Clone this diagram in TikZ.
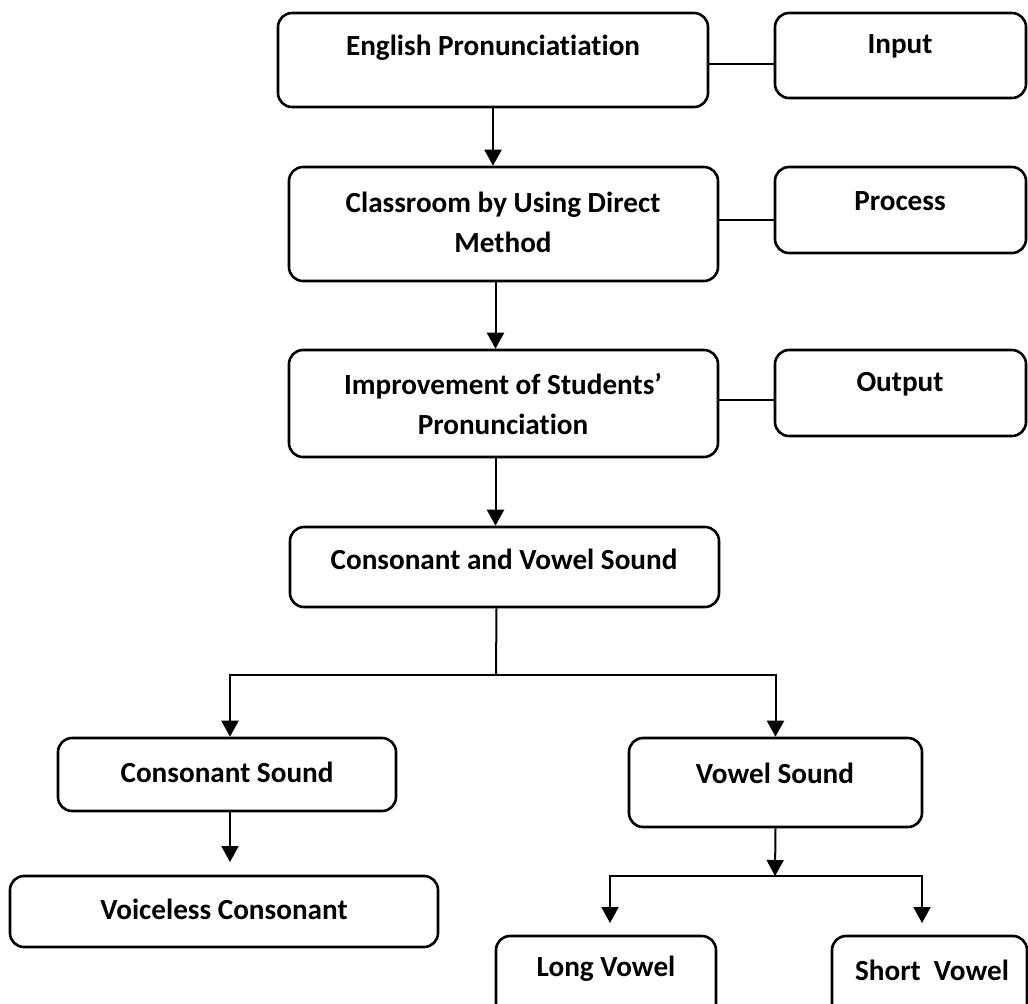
\documentclass[tikz,border=0pt]{standalone}
\usepackage{fontspec}
\setmainfont{Carlito}[Ligatures=NoCommon]
\usetikzlibrary{arrows.meta}
\tikzset{
    box/.style={draw, line width=1.3pt, rounded corners=7pt, inner sep=0pt},
    lbl/.style={font=\fontsize{14.6}{20}\selectfont\bfseries, align=center, inner sep=0pt},
    link/.style={line width=1pt},
    arr/.style={line width=1pt, -{Triangle[length=8pt,width=8.5pt]}}
}
\begin{document}
\begin{tikzpicture}[x=0.5pt,y=-0.5pt]
        \useasboundingbox (0,0) rectangle (1028,1003);
        \node [box, minimum width=215pt, minimum height=47pt] (eng) at (493,60) {};
        \node [box, minimum width=125.5pt, minimum height=42.5pt] (inp) at (900.5,55.5) {};
        \node [box, minimum width=214.5pt, minimum height=57pt] (cls) at (503.5,224) {};
        \node [box, minimum width=125.5pt, minimum height=43pt] (prc) at (900.5,210) {};
        \node [box, minimum width=214.5pt, minimum height=53.5pt] (imp) at (503.5,403.5) {};
        \node [box, minimum width=125.5pt, minimum height=43pt] (out) at (900.5,393) {};
        \node [box, minimum width=214.5pt, minimum height=40pt] (cvs) at (504.5,567) {};
        \node [box, minimum width=169pt, minimum height=36.5pt] (cns) at (227,774.5) {};
        \node [box, minimum width=146.5pt, minimum height=44.5pt] (vwl) at (775.5,782.5) {};
        \node [box, minimum width=214pt, minimum height=35.5pt] (vls) at (224,911.5) {};
        \node [box, minimum width=110pt, minimum height=42pt] (lng) at (606,978) {};
        \node [box, minimum width=97.5pt, minimum height=42pt] (sht) at (929.5,978) {};
        \node [lbl] (teng) at (493,48) {English Pronunciatiation};
        \node [lbl] (tinp) at (900,46) {Input};
        \node [lbl] (tcls) at (503,222) {Classroom by Using Direct\\Method};
        \node [lbl] (tprc) at (900,201) {Process};
        \node [lbl] (timp) at (503,404) {Improvement of Students'\\Pronunciation};
        \node [lbl] (tout) at (900,384) {Output};
        \node [lbl] (tcvs) at (504,559) {Consonant and Vowel Sound};
        \node [lbl] (tcns) at (227,772) {Consonant Sound};
        \node [lbl] (tvwl) at (775,773) {Vowel Sound};
        \node [lbl] (tvls) at (224,909) {Voiceless Consonant};
        \node [lbl] (tlng) at (606,969) {Long Vowel};
        \node [lbl] (tsht) at (932,970) {Short\ \ Vowel};
        \coordinate (split) at (496,675);
        \coordinate (cnsend) at (230,862);
        \coordinate (split2) at (775,876);
        \coordinate (lngend) at (610,923);
        \coordinate (shtend) at (922,923);
        \draw [link] ([yshift=-2pt]eng.east) -- ([yshift=-2pt]eng.east -| inp.west);
        \draw [link] ([yshift=2pt]cls.east) -- ([yshift=2pt]cls.east -| prc.west);
        \draw [link] ([yshift=2pt]imp.east) -- ([yshift=2pt]imp.east -| out.west);
        \draw [arr] (eng.south) -- (eng.south |- cls.north);
        \draw [arr] ([xshift=-4pt]cls.south) -- ([xshift=-4pt]cls.south |- imp.north);
        \draw [arr] ([xshift=-4pt]imp.south) -- ([xshift=-4pt]imp.south |- cvs.north);
        \draw [link] ([xshift=-4pt]cvs.south) -- (split);
        \draw [arr] (split) -| ([xshift=1.5pt]cns.north);
        \draw [arr] (split) -| (vwl.north);
        \draw [arr] ([xshift=1.5pt]cns.south) -- (cnsend);
        \draw [arr] (vwl.south) -- (split2);
        \draw [arr] (split2) -| (lngend);
        \draw [arr] (split2) -| (shtend);
\end{tikzpicture}
\end{document}
